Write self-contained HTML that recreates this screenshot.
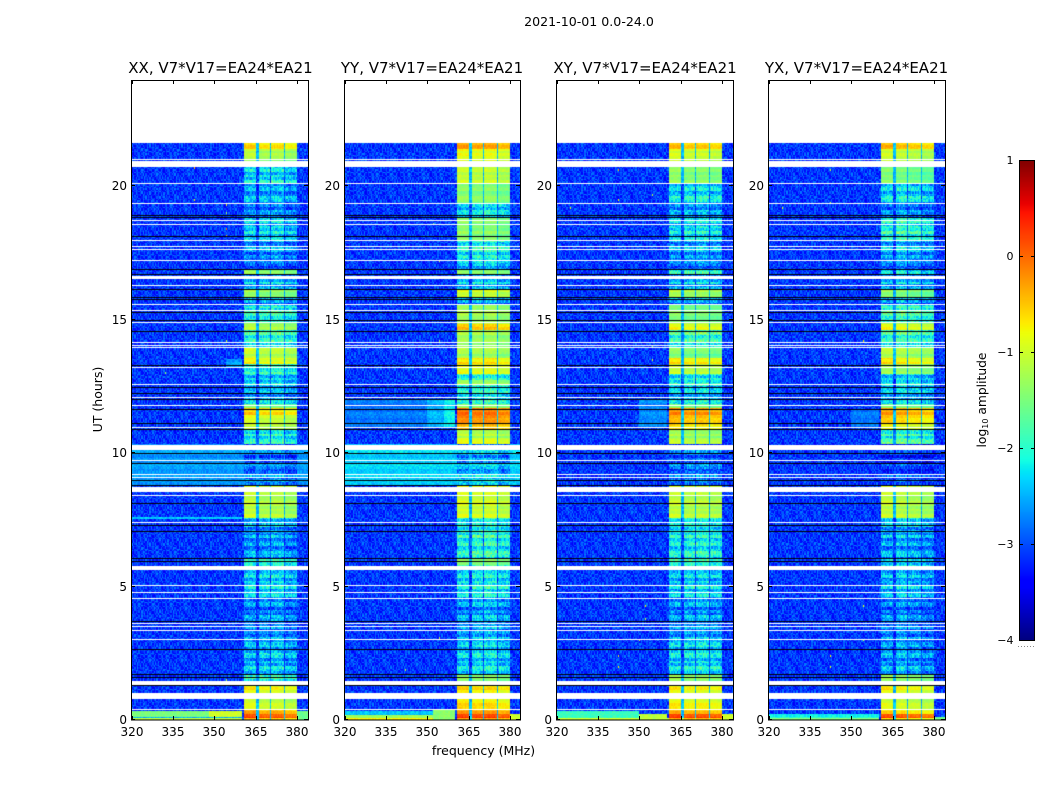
<!DOCTYPE html>
<html lang="en">
<head>
<meta charset="utf-8">
<title>2021-10-01 0.0-24.0</title>
<style>
html,body{margin:0;padding:0;background:#fff;}
#figure{position:relative;width:1050px;height:800px;overflow:hidden;background:#fff;}
canvas{position:absolute;display:block;}
svg{position:absolute;left:0;top:0;}
text{font-family:"DejaVu Sans","Liberation Sans",sans-serif;fill:#000;}
</style>
</head>
<body>
<div id="figure">
  <canvas id="heat0"></canvas>
  <canvas id="heat1"></canvas>
  <canvas id="heat2"></canvas>
  <canvas id="heat3"></canvas>
  <canvas id="cbar" width="15" height="480" style="left:1019px;top:160px;width:15px;height:480px"></canvas>
  <svg id="overlay" width="1050" height="800">
    <text x="589" y="26" text-anchor="middle" font-size="12.6">2021-10-01 0.0-24.0</text>
    <text x="483.500" y="755" text-anchor="middle" font-size="12.5">frequency (MHz)</text>
    <text transform="translate(102,399.500) rotate(-90)" text-anchor="middle" font-size="12.5">UT (hours)</text>
    <text transform="translate(986,400) rotate(-90)" text-anchor="middle" font-size="12.3">log<tspan font-size="8" dy="2">10</tspan><tspan dy="-2"> amplitude</tspan></text>
  </svg>
</div>
<script>
/* ---------- chart data ---------- */
const polarisations = ["XX", "YY", "XY", "YX"];
const baselineLabel = ", V7*V17=EA24*EA21";
const freqTicks = [320, 335, 350, 365, 380];
const hourTicks = [0, 5, 10, 15, 20];
const colorbarTicks = [1, 0, -1, -2, -3, -4];

/* time bands: hour at the top edge of each band (last entry = bottom of data) */
const bandEdgesHours = [21.58,21.33,20.99,20.69,20.09,19.34,18.82,17.96,17.21,16.84,16.65,16.12,15.79,15.56,14.89,14.78,14.59,13.95,13.54,13.28,12.94,12.71,12.53,12.04,11.78,11.67,11.40,11.07,10.84,10.54,10.28,9.16,8.78,7.55,7.21,6.05,5.79,4.48,2.98,1.67,1.40,0.77,0.36,0.21,0.05,0];

/* log10 amplitude inside the 360-380 MHz sub-bands, one value per time band */
const levelsXX = [-0.55,-1.0,-1.4,-2.0,-2.25,-2.5,-2.05,-2.35,-2.7,-1.3,-2.15,-1.2,-2.4,-1.75,-1.4,-1.0,-1.7,-1.0,-0.7,-1.75,-2.05,-2.05,-2.25,-2.15,-1.3,-0.5,-0.85,-1.0,-1.9,-1.75,-2.6,-2.4,-1.0,-2.1,-2.35,-1.6,-2.05,-2.45,-2.15,-1.6,-0.7,-0.9,-0.2,0.25,-0.5];
const levelsYY = [-0.3,-0.75,-1.0,-1.0,-1.35,-2.1,-1.35,-1.85,-2.3,-1.4,-2.2,-0.9,-2.4,-1.2,-1.1,-0.4,-1.2,-1.2,-0.6,-0.8,-1.75,-1.2,-1.85,-2.0,-1.2,-0.02,-0.1,-0.4,-1.1,-0.8,-2.4,-2.1,-0.9,-1.85,-1.85,-1.3,-2.0,-2.4,-2.1,-1.3,-0.6,-0.6,-0.2,0.3,-0.4];
const levelsXY = [-0.45,-0.85,-1.1,-1.3,-2.0,-2.4,-2.0,-2.3,-2.6,-1.8,-2.2,-1.1,-2.4,-1.4,-1.2,-0.7,-1.65,-1.4,-0.6,-1.0,-1.85,-1.85,-2.1,-2.1,-1.3,-0.15,-0.35,-0.6,-1.2,-1.0,-2.6,-2.5,-1.0,-1.85,-1.9,-1.6,-2.1,-2.4,-2.0,-1.2,-0.7,-0.7,-0.3,0.3,-0.4];
const levelsYX = [-0.4,-0.9,-1.1,-1.4,-2.0,-2.5,-1.75,-2.2,-2.6,-2.1,-2.2,-1.3,-2.4,-1.6,-1.3,-0.7,-1.65,-1.1,-0.6,-1.2,-2.0,-2.0,-2.1,-2.2,-1.3,-0.25,-0.45,-0.8,-1.75,-1.5,-2.9,-2.7,-1.0,-2.0,-2.3,-2.0,-2.2,-2.5,-2.3,-1.2,-0.7,-0.9,-0.5,0.25,-0.7];

/* sub-band limits in MHz and relative gain of each sub-band per polarisation (full effect in dim bands) */
const subbandStartsMHz = [360.6, 365.9, 370.5, 375.5];
const subbandEndsMHz = [365.2, 370.0, 374.8, 380.0];
const gainXX = [-0.3, -0.28, -0.22, -0.42];
const gainYY = [-0.25, -0.15, -0.1, -0.3];
const gainXY = [-0.3, -0.22, -0.18, -0.3];
const gainYX = [-0.3, -0.18, -0.3, -0.42];
const backgroundLevel = -3.12;

/* regions outside the sub-bands brighter than background: [hourLow, hourHigh, mhzLow, mhzHigh, level] */
const patchesXX = [[8.78,10.28,320,384,-2.62],[7.52,7.58,320,360,-2.4],[13.2,13.5,354,360,-2.6],[0.12,0.32,320,348,-1.5],[0.12,0.3,348,360,-1.0],[0.05,0.12,320,360,-2.6],[0,0.05,320,360,-1.1],[0,0.3,380,384,-1.6]];
const patchesYY = [[8.78,10.28,320,384,-2.35],[10.9,12,320,350,-2.8],[10.9,12,350,356,-2.5],[10.9,12,356,360,-2.2],[0.14,0.3,320,352,-2.4],[0.05,0.14,320,352,-1.3],[0,0.05,320,352,-0.7],[0,0.35,352,360,-1.4],[0,0.2,380,384,-1.0]];
const patchesXY = [[10.9,12,350,360,-2.7],[0.05,0.3,320,350,-1.9],[0,0.05,320,384,-1.0],[0,0.2,350,360,-1.1],[0,0.2,380,384,-1.0]];
const patchesYX = [[10.9,11.6,350,360,-2.8],[0.05,0.2,320,360,-2.1],[0,0.05,320,360,-1.5],[0,0.1,380,384,-1.6]];

/* flagged-out integrations, common to all panels */
const whiteLineHours = [20.98,20.08,19.33,18.68,18.55,17.95,17.73,17.61,17.18,16.24,15.56,15.30,14.86,14.11,14.00,13.93,13.19,12.55,12.05,11.75,10.94,9.69,9.18,9.06,8.40,7.39,5.03,4.76,4.54,3.58,3.48,3.35,2.99,0.39];
const whiteSpanHours = [[20.71,20.90],[16.50,16.62],[10.09,10.28],[8.52,8.69],[5.60,5.76],[1.31,1.46],[0.77,0.98]];
const blackLineHours = [18.86,18.80,18.08,16.84,16.66,16.11,15.79,15.73,15.24,14.94,14.52,13.27,12.44,12.22,12.00,11.62,11.07,10.88,9.98,9.57,8.94,8.78,8.10,7.28,7.03,6.02,5.90,3.66,2.63,1.69,1.57,1.29];

/* isolated RFI spikes: [mhz, hour, level] */
const spikesXX = [[354,18.4,0],[354,18.15,-0.5],[354,19.3,-1],[354,19.0,-1.3],[342.5,20.7,-0.5],[342.5,19.5,-0.7],[332,13.0,-1.3],[354,14.2,-1],[354,1.5,-1.2]];
const spikesYY = [[354,17.2,-1.0],[352,18.6,-1.4],[342,1.9,-1],[354,14.2,-1.2],[354,3.1,-1.1]];
const spikesXY = [[342.4,20.6,-0.3],[342.4,19.5,-0.8],[354.5,19.7,-1.2],[354.5,14.0,-1.3],[354.5,13.5,-0.9],[352,4.3,-0.6],[352,3.8,-1],[342.4,2.4,-1],[342.4,2.0,-0.7],[350,3,-1],[325,19.2,-0.9]];
const spikesYX = [[342.4,20.6,-1.1],[342.4,19.4,-1],[354,14.2,-0.6],[354,4.3,-0.8],[342.4,2.0,-0.9],[342.4,2.4,-0.7],[325,19.2,-0.9],[354,3,-1.1]];

/* hand-typed speckle tile, a stand-in for cell noise that cannot be read individually */
const speckleTile = [
"37190528461739205846173","92648103759264810375926","05371946280537194628053",
"61829037546182903754618","28405917362840591736284","74916205837491620583749",
"50283761945028376194502","16739482051673948205167","83052671498305267149830",
"49617350826961735082696","25984016373598401637359","70346298517034629851703",
"38521709465852170946585"];
const rowStreak = [0.9,-0.6,0.2,-1,0.5,0.8,-0.3,-0.9,0.6,0.1,-0.7,1,-0.4,0.3,-0.8,0.7,-0.1,-0.5,0.4];

/* ---------- layout ---------- */
const panelLeftPx = [131, 344, 556, 768];
const panelWidths = [177, 176, 177, 177];
const titleCentersPx = [220.5, 432, 645, 856.5];
const plotTop = 80, plotBottom = 720;
const channelMHz = 0.5, channelCount = 128, rowHours = 0.05, rowCount = 432;
const levelsByPanel = [levelsXX, levelsYY, levelsXY, levelsYX];
const gainsByPanel = [gainXX, gainYY, gainXY, gainYX];
const patchesByPanel = [patchesXX, patchesYY, patchesXY, patchesYX];
const spikesByPanel = [spikesXX, spikesYY, spikesXY, spikesYX];

function xScale(panel, mhz) { return panelLeftPx[panel] + 0.5 + (mhz - 320) * 2.766; }
function yScale(hour) { return 719.5 - hour * 26.7; }
function cbarY(v) { return 160 + (1 - v) * 96; }

function interp(stops, t) {
  for (let i = 1; i < stops.length; i++) {
    if (t <= stops[i][0]) {
      const a = stops[i - 1], b = stops[i];
      return a[1] + (b[1] - a[1]) * (t - a[0]) / (b[0] - a[0]);
    }
  }
  return stops[stops.length - 1][1];
}
const jetR = [[0,0],[0.35,0],[0.66,1],[0.89,1],[1,0.5]];
const jetG = [[0,0],[0.125,0],[0.375,1],[0.64,1],[0.91,0],[1,0]];
const jetB = [[0,0.5],[0.11,1],[0.34,1],[0.65,0],[1,0]];
function jet(level) {
  const t = Math.max(0, Math.min(1, (level + 4) / 5));
  return "rgb(" + Math.round(255 * interp(jetR, t)) + "," + Math.round(255 * interp(jetG, t)) + "," + Math.round(255 * interp(jetB, t)) + ")";
}

function bandIndex(hour) {
  for (let b = 0; b < bandEdgesHours.length - 1; b++) {
    if (hour >= bandEdgesHours[b + 1]) return b;
  }
  return bandEdgesHours.length - 2;
}
function subbandIndex(mhz) {
  for (let s = 0; s < subbandStartsMHz.length; s++) {
    if (mhz >= subbandStartsMHz[s] && mhz < subbandEndsMHz[s]) return s;
  }
  return -1;
}
function speckle(panel, c, r) {
  const row = speckleTile[(r + panel * 3) % speckleTile.length];
  const digit = row.charCodeAt((c + r * 7 + panel * 5) % row.length) - 48;
  return (digit - 4.5) / 4.5;
}
function cellLevel(panel, c, r) {
  const mhz = 320 + (c + 0.5) * channelMHz, hour = (r + 0.5) * rowHours;
  const core = levelsByPanel[panel][bandIndex(hour)];
  const s = subbandIndex(mhz);
  const n = speckle(panel, c, r);
  const streak = rowStreak[Math.floor(r / 2) % rowStreak.length];
  if (s >= 0) {
    const dim = core <= -1.5;
    const amp = dim ? 0.36 : 0.1;
    const streakAmp = dim ? 0.34 : 0.14;
    const gain = gainsByPanel[panel][s] * (dim ? 1 : (s === 0 ? 0.15 : 0.7));
    return core + gain + n * amp + streak * streakAmp;
  }
  let base = backgroundLevel;
  const patches = patchesByPanel[panel];
  for (let i = 0; i < patches.length; i++) {
    const p = patches[i];
    if (hour >= p[0] && hour < p[1] && mhz >= p[2] && mhz < p[3]) base = p[4];
  }
  if (mhz > 360.6 && mhz < 380) base = Math.max(base, Math.min(core - 1.1, -2.45));
  const streakPart = base > -2.9 && base < -2 ? streak * 0.1 : 0;
  return base + streakPart + n * (base > -2 ? 0.12 : base > -2.9 ? 0.16 : 0.36);
}

function drawPanel(panel) {
  const cv = document.getElementById("heat" + panel);
  const left = panelLeftPx[panel] + 1;
  cv.width = panelWidths[panel] - 1;
  cv.height = plotBottom - plotTop;
  cv.style.left = left + "px";
  cv.style.top = plotTop + "px";
  cv.style.width = cv.width + "px";
  cv.style.height = cv.height + "px";
  const g = cv.getContext("2d");
  for (let r = 0; r < rowCount; r++) {
    const yA = Math.round(yScale((r + 1) * rowHours)) - plotTop;
    const yB = Math.round(yScale(r * rowHours)) - plotTop;
    for (let c = 0; c < channelCount; c++) {
      const xA = Math.round(xScale(panel, 320 + c * channelMHz)) - left;
      const xB = Math.round(xScale(panel, 320 + (c + 1) * channelMHz)) - left;
      g.fillStyle = jet(cellLevel(panel, c, r));
      g.fillRect(xA, yA, xB - xA, yB - yA);
    }
  }
  spikesByPanel[panel].forEach(function (sp) {
    g.fillStyle = jet(sp[2]);
    g.fillRect(Math.round(xScale(panel, sp[0])) - left, Math.round(yScale(sp[1])) - plotTop, 1, 2);
  });
  g.fillStyle = "#000008";
  blackLineHours.forEach(function (h) {
    g.fillRect(0, Math.round(yScale(h) - 0.5) - plotTop, cv.width, 1);
  });
  whiteLineHours.forEach(function (h) {
    g.clearRect(0, Math.round(yScale(h) - 0.5) - plotTop, cv.width, 1);
  });
  whiteSpanHours.forEach(function (sp) {
    const a = Math.round(yScale(sp[1])) - plotTop, b = Math.round(yScale(sp[0])) - plotTop;
    g.clearRect(0, a, cv.width, b - a);
  });
}

const svgNS = "http://www.w3.org/2000/svg";
const overlay = document.getElementById("overlay");
function addLine(x1, y1, x2, y2, color) {
  const l = document.createElementNS(svgNS, "line");
  l.setAttribute("x1", x1);
  l.setAttribute("y1", y1);
  l.setAttribute("x2", x2);
  l.setAttribute("y2", y2);
  l.setAttribute("stroke", color || "#000");
  l.setAttribute("stroke-width", "1");
  
  
  overlay.appendChild(l);
  return l;
}
function addText(x, y, str, anchor, size) {
  const t = document.createElementNS(svgNS, "text");
  t.setAttribute("x", x);
  t.setAttribute("y", y);
  t.setAttribute("text-anchor", anchor);
  t.setAttribute("font-size", size);
  
  
  t.textContent = str;
  overlay.appendChild(t);
  return t;
}
function drawAxes(panel) {
  const left = panelLeftPx[panel];
  const width = panelWidths[panel];
  const frame = document.createElementNS(svgNS, "rect");
  frame.setAttribute("x", left + 0.5);
  frame.setAttribute("y", plotTop + 0.5);
  frame.setAttribute("width", width);
  frame.setAttribute("height", plotBottom - plotTop - 0.5);
  frame.setAttribute("fill", "none");
  frame.setAttribute("stroke", "#000");
  frame.setAttribute("stroke-width", "1");
  
  
  overlay.appendChild(frame);
  const title = addText(titleCentersPx[panel], 73, polarisations[panel] + baselineLabel, "middle", 15);
  
  freqTicks.forEach(function (f) {
    const x = Math.round(xScale(panel, f)) + 0.5;
    addLine(x, plotBottom, x, plotBottom - 4);
    addLine(x, plotTop, x, plotTop + 4);
    const label = addText(x - 0.5, 736, String(f), "middle", 12);
    
  });
  hourTicks.forEach(function (h) {
    const y = Math.round(yScale(h) - 0.5) + 0.5;
    addLine(left, y, left + 4, y);
    addLine(left + width, y, left + width - 4, y);
    const label = addText(left - 4, y + 4.5, String(h), "end", 12);
    
  });
}
function drawColorbar() {
  const g = document.getElementById("cbar").getContext("2d");
  for (let y = 0; y < 480; y++) {
    g.fillStyle = jet(1 - (y + 0.5) / 96);
    g.fillRect(0, y, 15, 1);
  }
  const frame = document.createElementNS(svgNS, "rect");
  frame.setAttribute("x", 1019.5);
  frame.setAttribute("y", 160.5);
  frame.setAttribute("width", 15);
  frame.setAttribute("height", 480);
  frame.setAttribute("fill", "none");
  frame.setAttribute("stroke", "#000");
  frame.setAttribute("stroke-width", "1");
  
  
  overlay.appendChild(frame);
  colorbarTicks.forEach(function (v) {
    const y = Math.round(cbarY(v)) + 0.5;
    addLine(1019, y, 1023, y);
    addLine(1031, y, 1035, y);
    const label = addText(1013.5, y + 3.5, v < 0 ? "\u2212" + Math.abs(v) : String(v), "end", 11);
    
  });
  const dots = addLine(1018, 646.5, 1035, 646.5, "#888");
  dots.setAttribute("stroke-dasharray", "1 2");
  
}

for (let p = 0; p < polarisations.length; p++) {
  drawPanel(p);
  drawAxes(p);
}
drawColorbar();
</script>
</body>
</html>
